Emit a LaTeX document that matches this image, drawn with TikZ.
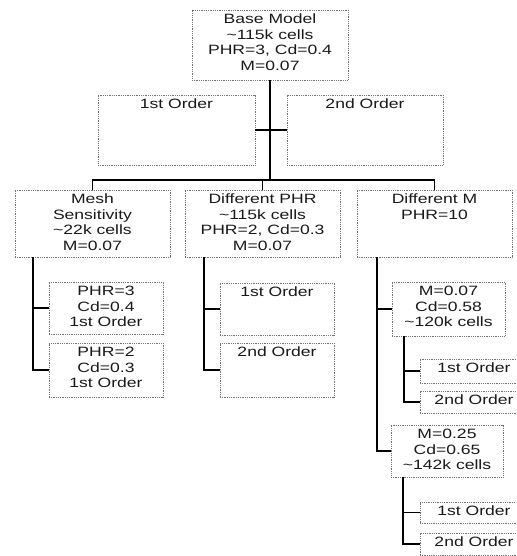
\documentclass[tikz,border=0pt]{standalone}
\usepackage{fontspec}
\usepackage{graphicx}
\setmainfont{Liberation Sans}
\tikzset{
  boxst/.style={draw=black!55, densely dotted, line width=0.8pt, inner sep=0pt, outer sep=0pt},
  lblst/.style={anchor=north, align=center, inner xsep=0pt, inner ysep=2.5pt,
    font=\fontsize{13.5}{15.5}\selectfont, text=black!90},
  conn/.style={line width=1.2pt, draw=black}
}
\newcommand\bx[6]{%
  \node[boxst, minimum width={#4-#2}, minimum height={#5-#3},
        label={[lblst]north:{\scalebox{1.3}[1]{\begin{tabular}{@{}c@{}}#6\end{tabular}}}}] (#1) at ({(#2+#4)/2},{(#3+#5)/2}) {};}
\begin{document}
\begin{tikzpicture}[x=1pt,y=-1pt]
\useasboundingbox (0,0) rectangle (516,556);
\clip (0,0) rectangle (516,556);
\bx{base}{192}{10}{348}{80}{Base Model\\\textasciitilde115k cells\\PHR=3, Cd=0.4\\M=0.07}
\bx{oa}{98}{95}{255}{165}{1st Order}
\bx{ob}{287}{95}{443}{165}{2nd Order}
\bx{mesh}{15}{190}{170}{257}{Mesh\\Sensitivity\\\textasciitilde22k cells\\M=0.07}
\bx{dphr}{185}{190}{340}{257}{Different PHR\\\textasciitilde115k cells\\PHR=2, Cd=0.3\\M=0.07}
\bx{dm}{357}{190}{512}{257}{Different M\\PHR=10}
\bx{ma}{49}{282}{163}{334}{PHR=3\\Cd=0.4\\1st Order}
\bx{mb}{49}{343}{163}{397}{PHR=2\\Cd=0.3\\1st Order}
\bx{pa}{220}{283}{334}{335}{1st Order}
\bx{pb}{220}{343}{334}{397}{2nd Order}
\bx{ca}{392}{282}{505}{336}{M=0.07\\Cd=0.58\\\textasciitilde120k cells}
\bx{ga}{420}{359}{528}{383}{1st Order}
\bx{gb}{420}{391}{528}{413}{2nd Order}
\bx{cb}{391}{425}{503}{477}{M=0.25\\Cd=0.65\\\textasciitilde142k cells}
\bx{gc}{420}{502}{528}{523}{1st Order}
\bx{gd}{420}{533}{528}{555}{2nd Order}
\coordinate (j) at (270,180);
\draw[conn] (base.south) -- (j);
\draw[conn] (oa.east) -- (ob.west);
\draw[conn] (mesh.north) |- (j) -| (dm.north);
\draw[conn] (dphr.north) -- (dphr.north |- j);
\draw[conn] ([xshift=18pt]mesh.south west) coordinate (mt) |- (mb.west);
\draw[conn] (ma.west) -- (ma.west -| mt);
\draw[conn] ([xshift=19pt]dphr.south west) coordinate (pt) |- (pb.west);
\draw[conn] (pa.west) -- (pa.west -| pt);
\draw[conn] ([xshift=20pt]dm.south west) coordinate (dt) |- (cb.west);
\draw[conn] (ca.west) -- (ca.west -| dt);
\draw[conn] ([xshift=12pt]ca.south west) coordinate (ct) |- (gb.west);
\draw[conn] (ga.west) -- (ga.west -| ct);
\draw[conn] ([xshift=12pt]cb.south west) coordinate (bt) |- (gd.west);
\draw[conn] (gc.west) -- (gc.west -| bt);
\end{tikzpicture}
\end{document}
